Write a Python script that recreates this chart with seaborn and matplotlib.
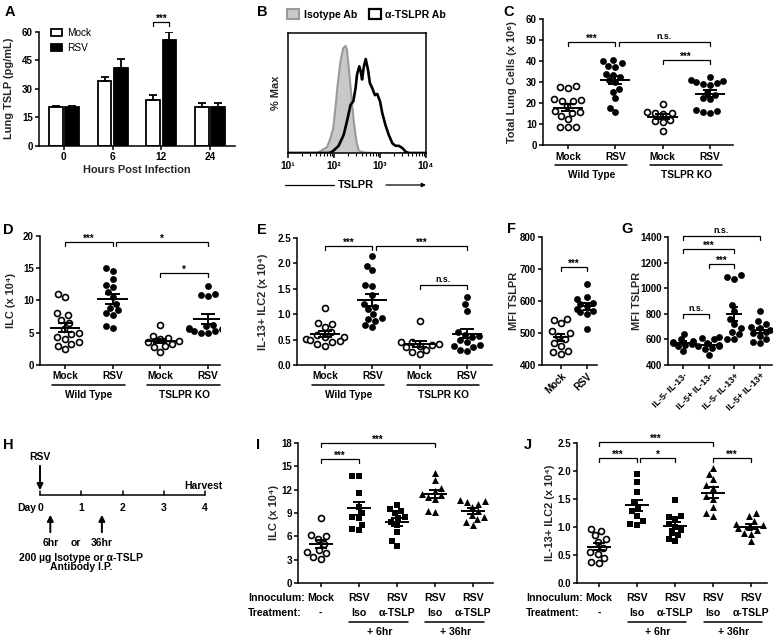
import numpy as np
import pandas as pd
import matplotlib
matplotlib.use("Agg")
import matplotlib.pyplot as plt
import matplotlib.transforms as mtransforms
from matplotlib.patches import Patch
from matplotlib.ticker import FormatStrFormatter, NullLocator
import seaborn as sns

# ---------------- data ----------------
# A
a_hours = ["0", "6", "12", "24"]
a_mock = [20.2, 34.0, 24.0, 20.5]
a_mock_sem = [0.7, 2.0, 2.7, 2.1]
a_rsv = [20.2, 41.0, 55.6, 20.5]
a_rsv_sem = [0.6, 4.4, 4.4, 1.8]

# B (log10 TSLPR, % max)
b_iso_log = [1.0, 1.63, 1.70, 1.85, 1.92, 1.98, 2.03, 2.08, 2.14, 2.20, 2.25, 2.28,
             2.32, 2.37, 2.43, 2.49, 2.54, 2.65, 2.87, 4.0]
b_iso_pct = [0, 0, 1.6, 5.6, 13.5, 22.5, 41.6, 64.1, 85.4, 97.8, 100, 96.7,
             79.8, 57.3, 29.2, 10.1, 2.2, 0.6, 0, 0]
b_anti_log = [1.0, 1.85, 1.92, 1.99, 2.10, 2.21, 2.28, 2.36, 2.42, 2.47, 2.50, 2.55,
              2.58, 2.61, 2.65, 2.69, 2.74, 2.78, 2.83, 2.89, 2.94, 3.00, 3.05,
              3.12, 3.19, 3.27, 3.34, 3.41, 3.49, 3.56, 3.63, 4.0]
b_anti_pct = [0, 0, 0.3, 2.2, 6.7, 16.9, 29.2, 45.0, 48.3, 60.7, 73.1, 80.9,
              76.4, 68.6, 80.9, 87.7, 77.6, 65.2, 60.7, 54.0, 55.1, 48.3, 37.1,
              25.9, 16.9, 9.0, 6.7, 6.7, 4.5, 1.1, 0, 0]

# C
c_wt_mock = [28.3, 27.8, 27.3, 22, 21.5, 21, 21, 18.5, 16.5, 16, 15.5, 14, 12.3, 8.8, 8.7, 8.6]
c_wt_rsv = [40.5, 40, 39, 38, 37.5, 34, 33.5, 32.5, 31, 30, 27, 25.5, 22.5, 18, 16]
c_ko_mock = [19.5, 16, 15.5, 15.5, 15, 12, 11.5, 11, 7]
c_ko_rsv = [32.5, 31, 30.5, 30, 29.5, 29, 28.5, 25, 24, 22.5, 22, 17, 16.5, 16, 15.5]

# D
d_wt_mock = [11, 10.5, 8, 7.7, 7, 6.5, 5.5, 5, 4.8, 4.3, 4, 3.5, 3.2, 3, 2.5]
d_wt_rsv = [15, 14.5, 13.3, 12.3, 12, 11.3, 10.5, 9.5, 8.8, 8.5, 8, 7.8, 6, 5.7]
d_ko_mock = [6.2, 4.5, 4.2, 4, 3.7, 3.5, 3.2, 3, 2.8, 2]
d_ko_rsv = [12.2, 11, 10.8, 10.6, 6.2, 6, 5.7, 5.5, 5.5, 5.3, 5.2, 5, 5, 5.5]

# E
e_wt_mock = [1.13, 0.83, 0.8, 0.75, 0.65, 0.6, 0.55, 0.55, 0.52, 0.5, 0.48, 0.45, 0.42, 0.38]
e_wt_rsv = [2.15, 1.95, 1.87, 1.57, 1.55, 1.37, 1.2, 1.15, 1.1, 1.0, 0.92, 0.9, 0.87, 0.78, 0.75]
e_ko_mock = [0.87, 0.45, 0.45, 0.42, 0.4, 0.38, 0.35, 0.3, 0.25, 0.22]
e_ko_rsv = [1.33, 1.2, 1.07, 0.65, 0.6, 0.58, 0.55, 0.5, 0.45, 0.4, 0.38, 0.35, 0.3, 0.28]

# F
f_mock = [545, 540, 530, 505, 500, 490, 480, 470, 460, 445, 440, 435]
f_rsv = [652, 612, 605, 595, 590, 585, 575, 570, 565, 560, 512]

# G
g_labels = ["IL-5- IL-13-", "IL-5+ IL-13-", "IL-5- IL-13+", "IL-5+ IL-13+"]
g0 = [645, 600, 590, 580, 575, 570, 565, 560, 550, 510]
g1 = [615, 610, 600, 575, 560, 550, 545, 535, 525, 480]
g2 = [1100, 1085, 1075, 870, 820, 760, 720, 690, 660, 640, 600, 600]
g3 = [820, 740, 720, 700, 690, 670, 660, 650, 630, 600, 580, 575]

# H
h_days = [0, 1, 2, 3, 4]
h_inject_days = [0.25, 1.5]
h_inject_labels = ["6hr", "36hr"]

# I
ij_inoc = ["Mock", "RSV", "RSV", "RSV", "RSV"]
ij_treat = ["-", "Iso", "α-TSLP", "Iso", "α-TSLP"]
i_mock = [8.3, 6.2, 6, 5.7, 5, 4.2, 4, 3.8, 3.3, 3.1]
i_iso6 = [13.7, 13.7, 11.6, 9.8, 9.0, 8.5, 8.3, 7.5, 6.9, 6.8]
i_anti6 = [10, 9.5, 9.3, 9, 8.5, 8.3, 7.8, 7.5, 6.5, 5.4, 4.8]
i_iso36 = [14.2, 13.3, 12.2, 11.8, 11.5, 11.3, 11, 10.8, 9.2, 9.1]
i_anti36 = [10.7, 10.6, 10.4, 10.2, 9.8, 9.3, 8.8, 8.5, 8.2, 7.9, 7.5]

# J
j_mock = [0.97, 0.93, 0.85, 0.78, 0.73, 0.62, 0.55, 0.52, 0.45, 0.38, 0.35]
j_iso6 = [1.95, 1.8, 1.62, 1.45, 1.35, 1.28, 1.2, 1.1, 1.05, 1.04]
j_anti6 = [1.48, 1.2, 1.18, 1.15, 1.05, 1.0, 0.95, 0.9, 0.85, 0.78, 0.75]
j_iso36 = [2.05, 1.95, 1.85, 1.75, 1.7, 1.55, 1.5, 1.35, 1.25, 1.2]
j_anti36 = [1.25, 1.2, 1.1, 1.05, 1.03, 1.0, 0.98, 0.95, 0.9, 0.88, 0.75]

# ---------------- style ----------------
W, H = 774, 642
sns.set_style("ticks")
plt.rcParams["font.family"] = ["Liberation Sans", "DejaVu Sans"]
plt.rcParams["font.weight"] = "bold"
plt.rcParams["axes.labelweight"] = "bold"
plt.rcParams["axes.linewidth"] = 1.1
plt.rcParams["axes.edgecolor"] = "black"
plt.rcParams["xtick.color"] = "black"
plt.rcParams["ytick.color"] = "black"
plt.rcParams["text.color"] = "black"

LW = 1.1
MLW = 1.4
fig = plt.figure(figsize=(W / 100, H / 100), dpi=100)


def px_axes(l, t, r, b):
    return fig.add_axes([l / W, 1 - b / H, (r - l) / W, (b - t) / H])


def ax_h(ax):
    return ax.get_position().height * H


def ax_w(ax):
    return ax.get_position().width * W


def style(ax):
    sns.despine(ax=ax)
    ax.tick_params(axis="both", direction="out", length=3, width=LW, pad=1.5)
    ax.tick_params(axis="y", labelsize=7)
    ax.tick_params(axis="x", labelsize=7.3)
    ax.set_xlabel("")


def ylabel_px(ax, text, x_px):
    l = ax.get_position().x0 * W
    ax.set_ylabel(text, fontsize=7.9, fontweight="bold", va="center")
    ax.yaxis.set_label_coords((x_px - l) / ax_w(ax), 0.5)


def bracket(ax, i, j, y, text, shift=0.0):
    y0, y1 = ax.get_ylim()
    drop = (y1 - y0) * 4 / ax_h(ax)
    xa = i + shift
    ax.plot([xa, xa, j, j], [y - drop, y, y, y - drop], color="black", lw=0.9,
            clip_on=False, solid_joinstyle="miter")
    off = 0.0 if text.startswith("*") else 2.2
    ax.annotate(text, xy=((xa + j) / 2, y), xytext=(0, off), textcoords="offset points",
                ha="center", va="baseline", fontsize=7 if text.startswith("*") else 6.3,
                fontweight="bold", annotation_clip=False)


def scatter_panel(ax, keys, values, styles, sizes):
    rows = []
    for k, vals in zip(keys, values):
        rows += [(k, v) for v in vals]
    df = pd.DataFrame(rows, columns=["group", "value"])
    for st in dict.fromkeys(styles):
        sel = [k for k, s in zip(keys, styles) if s == st]
        sub = df[df["group"].isin(sel)]
        marker, filled = st
        if filled:
            sns.swarmplot(data=sub, x="group", y="value", order=keys, color="black",
                          marker=marker, size=sizes[marker], linewidth=0, ax=ax, zorder=3)
        else:
            sns.swarmplot(data=sub, x="group", y="value", order=keys, color="white",
                          edgecolor="black", marker=marker, size=sizes[marker] - 0.6,
                          linewidth=1.2, ax=ax, zorder=3)
    for i, vals in enumerate(values):
        v = np.asarray(vals, dtype=float)
        m = v.mean()
        se = v.std(ddof=1) / np.sqrt(len(v))
        ax.hlines(m, i - 0.32, i + 0.32, color="black", lw=MLW, zorder=5)
        ax.vlines(i, m - se, m + se, color="black", lw=MLW, zorder=5)
        ax.hlines([m - se, m + se], i - 0.15, i + 0.15, color="black", lw=MLW, zorder=5)


def group_lines(ax, groups, line_px=20, text_px=30):
    trans = mtransforms.blended_transform_factory(ax.transData, ax.transAxes)
    hp = ax_h(ax)
    for i, j, lab in groups:
        ax.plot([i - 0.27, j + 0.25], [-line_px / hp] * 2, transform=trans,
                clip_on=False, color="black", lw=LW)
        ax.text((i + j) / 2, -text_px / hp, lab, transform=trans, ha="center",
                va="center", fontsize=7.3, fontweight="bold")


sizes_std = {"o": 4.9, "s": 4.6, "^": 5.0}

# ---------------- A ----------------
axA = px_axes(39, 31.7, 235, 145.7)
df_a = pd.DataFrame({"hour": a_hours * 2, "value": a_mock + a_rsv,
                     "group": ["Mock"] * 4 + ["RSV"] * 4})
sns.barplot(data=df_a, x="hour", y="value", hue="group", order=a_hours,
            hue_order=["Mock", "RSV"], palette={"Mock": "white", "RSV": "black"},
            edgecolor="black", linewidth=1.3, width=0.66, gap=0.15, errorbar=None,
            legend=False, ax=axA)
centers = {}
for cont, sems, name in zip(axA.containers, [a_mock_sem, a_rsv_sem], ["Mock", "RSV"]):
    bars = sorted(cont.patches, key=lambda p: p.get_x())
    centers[name] = []
    for bar, s in zip(bars, sems):
        x = bar.get_x() + bar.get_width() / 2
        top = bar.get_height()
        centers[name].append(x)
        axA.errorbar(x, top, yerr=[[0], [s]], color="black", lw=1.3, capsize=2.8,
                     capthick=1.3, zorder=1)
axA.set_ylim(0, 60)
axA.set_yticks([0, 15, 30, 45, 60])
axA.set_xlim(-0.51, 3.51)
style(axA)
ylabel_px(axA, "Lung TSLP (pg/mL)", 9)
axA.set_xlabel("Hours Post Infection", fontsize=7.9, fontweight="bold", va="center")
axA.xaxis.set_label_coords(0.5, -(170 - 145.7) / 114)
axA.legend(handles=[Patch(facecolor="white", edgecolor="black", lw=1.3),
                    Patch(facecolor="black", edgecolor="black", lw=1.3)],
           labels=["Mock", "RSV"], loc="upper left", bbox_to_anchor=(0.06, 1.03),
           frameon=False, handlelength=1.1, handleheight=0.7, handletextpad=0.5,
           labelspacing=0.45, borderpad=0, borderaxespad=0,
           prop={"size": 7.3, "weight": "normal"})
bracket(axA, centers["Mock"][2], centers["RSV"][2], 65, "***")

# ---------------- B ----------------
axB = px_axes(288, 33, 426, 153)
axB.set_xscale("log")
iso_x = 10 ** np.asarray(b_iso_log)
anti_x = 10 ** np.asarray(b_anti_log)
axB.fill_between(iso_x, 0, b_iso_pct, color="#c9c9c9", lw=0, zorder=1)
sns.lineplot(x=iso_x, y=b_iso_pct, sort=False, estimator=None, color="#9a9a9a",
             lw=1.5, ax=axB, zorder=2)
sns.lineplot(x=anti_x, y=b_anti_pct, sort=False, estimator=None, color="black",
             lw=1.9, ax=axB, zorder=3)
axB.set_xlim(10, 1e4)
axB.set_ylim(0, 112)
axB.set_xticks([10, 100, 1000, 10000])
axB.set_xticklabels(["10¹", "10²", "10³", "10⁴"])
axB.yaxis.set_major_locator(NullLocator())
axB.tick_params(axis="x", which="major", direction="out", length=3.5, width=LW,
                labelsize=7.3, pad=2)
axB.tick_params(axis="x", which="minor", direction="out", length=2, width=0.8)
for sp in axB.spines.values():
    sp.set_linewidth(LW)
ylabel_px(axB, "% Max", 276)
axB.set_xlabel("")
yB = -(185 - 153) / 120
axB.plot([-0.02, 0.33], [yB, yB], transform=axB.transAxes, clip_on=False,
         color="black", lw=0.9)
axB.text(0.49, yB, "TSLPR", transform=axB.transAxes, ha="center", va="center",
         fontsize=7.9, fontweight="bold")
axB.annotate("", xy=(1.02, yB), xytext=(0.69, yB), xycoords="axes fraction",
             textcoords="axes fraction",
             arrowprops=dict(arrowstyle="-|>", lw=0.9, color="black", mutation_scale=6))
axB.legend(handles=[Patch(facecolor="#c9c9c9", edgecolor="#9a9a9a", lw=1.5),
                    Patch(facecolor="white", edgecolor="black", lw=1.6)],
           labels=["Isotype Ab", "α-TSLPR Ab"], loc="lower left",
           bbox_to_anchor=(-0.005, 1.11), ncol=2, frameon=False, handlelength=1.15,
           handleheight=1.15, handletextpad=0.4, columnspacing=1.1, borderpad=0,
           borderaxespad=0, prop={"size": 7.6, "weight": "bold"})

# ---------------- C ----------------
axC = px_axes(543, 19.3, 733, 145.3)
keys4 = ["WT Mock", "WT RSV", "KO Mock", "KO RSV"]
st4 = [("o", False), ("o", True), ("o", False), ("o", True)]
scatter_panel(axC, keys4, [c_wt_mock, c_wt_rsv, c_ko_mock, c_ko_rsv], st4, sizes_std)
axC.set_ylim(0, 60)
axC.set_yticks(range(0, 61, 10))
axC.set_xlim(-0.53, 3.49)
style(axC)
axC.set_xticks(range(4))
axC.set_xticklabels(["Mock", "RSV", "Mock", "RSV"])
ylabel_px(axC, "Total Lung Cells (x 10⁶)", 512)
group_lines(axC, [(0, 1, "Wild Type"), (2, 3, "TSLPR KO")])
bracket(axC, 0, 1, 49.3, "***")
bracket(axC, 1, 3, 49.3, "n.s.", shift=0.07)
bracket(axC, 2, 3, 40.6, "***")

# ---------------- D ----------------
axD = px_axes(40, 235.7, 220, 365)
scatter_panel(axD, keys4, [d_wt_mock, d_wt_rsv, d_ko_mock, d_ko_rsv], st4, sizes_std)
axD.set_ylim(0, 20)
axD.set_yticks([0, 5, 10, 15, 20])
axD.set_xlim(-0.52, 3.25)
style(axD)
axD.set_xticks(range(4))
axD.set_xticklabels(["Mock", "RSV", "Mock", "RSV"])
ylabel_px(axD, "ILC (x 10⁴)", 11)
group_lines(axD, [(0, 1, "Wild Type"), (2, 3, "TSLPR KO")])
bracket(axD, 0, 1, 19.07, "***")
bracket(axD, 1, 3, 19.07, "*", shift=0.07)
bracket(axD, 2, 3, 14.2, "*")

# ---------------- E ----------------
axE = px_axes(297, 238, 492, 365)
scatter_panel(axE, keys4, [e_wt_mock, e_wt_rsv, e_ko_mock, e_ko_rsv], st4, sizes_std)
axE.set_ylim(0, 2.5)
axE.set_yticks([0, 0.5, 1.0, 1.5, 2.0, 2.5])
axE.yaxis.set_major_formatter(FormatStrFormatter("%.1f"))
axE.set_xlim(-0.59, 3.53)
style(axE)
axE.set_xticks(range(4))
axE.set_xticklabels(["Mock", "RSV", "Mock", "RSV"])
ylabel_px(axE, "IL-13+ ILC2 (x 10⁴)", 263)
group_lines(axE, [(0, 1, "Wild Type"), (2, 3, "TSLPR KO")])
bracket(axE, 0, 1, 2.34, "***")
bracket(axE, 1, 3, 2.34, "***", shift=0.07)
bracket(axE, 2, 3, 1.57, "n.s.")

# ---------------- F ----------------
axF = px_axes(542, 237, 597, 365)
scatter_panel(axF, ["Mock", "RSV"], [f_mock, f_rsv], [("o", False), ("o", True)], sizes_std)
axF.set_ylim(400, 800)
axF.set_yticks(range(400, 801, 100))
axF.set_xlim(-0.73, 1.38)
style(axF)
axF.set_xticks(range(2))
axF.set_xticklabels(["Mock", "RSV"], rotation=45, ha="right", rotation_mode="anchor",
                    fontsize=7)
ylabel_px(axF, "MFI TSLPR", 514)
bracket(axF, 0, 1, 707, "***")

# ---------------- G ----------------
axG = px_axes(668, 237, 772, 365)
gkeys = ["g0", "g1", "g2", "g3"]
scatter_panel(axG, gkeys, [g0, g1, g2, g3], [("o", True)] * 4, sizes_std)
axG.set_ylim(400, 1400)
axG.set_yticks(range(400, 1401, 200))
axG.set_xlim(-0.58, 3.47)
style(axG)
axG.set_xticks(range(4))
axG.set_xticklabels(g_labels, rotation=45, ha="right", rotation_mode="anchor",
                    fontsize=6.4)
ylabel_px(axG, "MFI TSLPR", 637)
bracket(axG, 0, 3, 1410, "n.s.")
bracket(axG, 0, 2, 1304, "***")
bracket(axG, 1, 2, 1187, "***")
bracket(axG, 0, 1, 798, "n.s.")

# ---------------- H ----------------
day_px = 41.25
axH = fig.add_axes([0, 0, 250 / W, (642 - 430) / H])
axH.set_xlim(-40 / day_px, 210 / day_px)
axH.set_ylim(642, 430)
axH.axis("off")
hkw = dict(ha="center", va="center", fontsize=7.5, fontweight="bold")
axH.plot([h_days[0], h_days[-1]], [495, 495], color="black", lw=LW, clip_on=False)
for d in h_days:
    axH.plot([d, d], [495, 490.5], color="black", lw=LW, clip_on=False)
    axH.text(d, 508, str(d), **hkw)
axH.text(-0.32, 508, "Day", **hkw)
axH.text(0, 457, "RSV", **hkw)
axH.annotate("", xy=(0, 493), xytext=(0, 463),
             arrowprops=dict(arrowstyle="-|>", lw=1.4, color="black", mutation_scale=9))
axH.text(h_days[-1] - 0.05, 486, "Harvest", clip_on=False, **hkw)
for d, lab in zip(h_inject_days, h_inject_labels):
    axH.annotate("", xy=(d, 512), xytext=(d, 535),
                 arrowprops=dict(arrowstyle="-|>", lw=1.4, color="black", mutation_scale=9))
    axH.text(d, 543, lab, **hkw)
axH.text(np.mean(h_inject_days), 543, "or", **hkw)
axH.text(1.0, 558, "200 µg Isotype or α-TSLP", **hkw)
axH.text(1.0, 567.5, "Antibody I.P.", **hkw)


# ---------------- I / J ----------------
def treatment_rows(ax):
    trans = mtransforms.blended_transform_factory(ax.transData, ax.transAxes)
    hp = ax_h(ax)
    kw = dict(transform=trans, va="center", fontsize=7.6, fontweight="bold")
    ax.text(-1.92, -15 / hp, "Innoculum:", ha="left", **kw)
    ax.text(-1.92, -30 / hp, "Treatment:", ha="left", **kw)
    for k, (a, b) in enumerate(zip(ij_inoc, ij_treat)):
        ax.text(k, -15 / hp, a, ha="center", **kw)
        ax.text(k, -30 / hp, b, ha="center", **kw)
    for i, j, lab in [(1, 2, "+ 6hr"), (3, 4, "+ 36hr")]:
        ax.plot([i - 0.25, j + 0.3], [-39 / hp] * 2, transform=trans, clip_on=False,
                color="black", lw=LW)
        ax.text((i + j) / 2 + 0.05, -49 / hp, lab, ha="center", **kw)


keys5 = ["Mock", "Iso6", "Anti6", "Iso36", "Anti36"]
st5 = [("o", False), ("s", True), ("s", True), ("^", True), ("^", True)]

axI = px_axes(298, 443, 493, 583)
scatter_panel(axI, keys5, [i_mock, i_iso6, i_anti6, i_iso36, i_anti36], st5, sizes_std)
axI.set_ylim(0, 18)
axI.set_yticks(range(0, 19, 3))
axI.set_xlim(-0.6, 4.53)
style(axI)
axI.set_xticks(range(5))
axI.set_xticklabels([""] * 5)
ylabel_px(axI, "ILC (x 10⁴)", 274)
treatment_rows(axI)
bracket(axI, 0, 3, 17.96, "***")
bracket(axI, 0, 1, 16.0, "***")

axJ = px_axes(577, 443, 767, 583)
scatter_panel(axJ, keys5, [j_mock, j_iso6, j_anti6, j_iso36, j_anti36], st5, sizes_std)
axJ.set_ylim(0, 2.5)
axJ.set_yticks([0, 0.5, 1.0, 1.5, 2.0, 2.5])
axJ.yaxis.set_major_formatter(FormatStrFormatter("%.1f"))
axJ.set_xlim(-0.58, 4.42)
style(axJ)
axJ.set_xticks(range(5))
axJ.set_xticklabels([""] * 5)
ylabel_px(axJ, "IL-13+ ILC2 (x 10⁴)", 550)
treatment_rows(axJ)
bracket(axJ, 0, 3, 2.52, "***")
bracket(axJ, 0, 1, 2.23, "***")
bracket(axJ, 1, 2, 2.23, "*", shift=0.07)
bracket(axJ, 3, 4, 2.23, "***")

# ---------------- panel letters ----------------
letters = [("A", 10, 12.5), ("B", 262, 12), ("C", 509, 12), ("D", 8, 230),
           ("E", 262, 230), ("F", 512, 229), ("G", 627, 229), ("H", 8, 445),
           ("I", 258, 445), ("J", 528, 445)]
for t, x, y in letters:
    fig.text(x / W, 1 - y / H, t, ha="center", va="center", fontsize=10.5,
             fontweight="bold")

fig.savefig("out.png", dpi=100)
